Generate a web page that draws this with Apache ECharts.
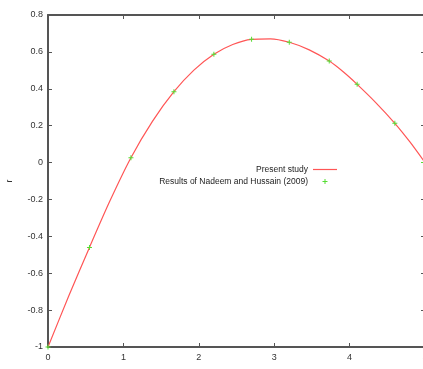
<!DOCTYPE html>
<html>
<head>
<meta charset="utf-8">
<script src="https://cdn.jsdelivr.net/npm/echarts@6/dist/echarts.min.js"></script>
<style>
html,body{margin:0;padding:0;background:#fff;}
#chart{width:423px;height:369px;}
</style>
</head>
<body>
<div id="chart"></div>
<script>
// Present study (curve)
var curveX = [0, 0.275, 0.55, 0.825, 1.1, 1.385, 1.67, 1.935, 2.2, 2.45, 2.7, 2.95, 3.2, 3.465, 3.73, 3.915, 4.1, 4.35, 4.6, 4.8, 5.0];
var curveR = [-1, -0.724, -0.46, -0.205, 0.026, 0.223, 0.384, 0.501, 0.587, 0.640, 0.668, 0.671, 0.652, 0.611, 0.55, 0.492, 0.424, 0.324, 0.213, 0.112, 0.0];
// Results of Nadeem and Hussain (2009)
var pointsX = [0, 0.55, 1.1, 1.67, 2.2, 2.7, 3.2, 3.73, 4.1, 4.6, 4.98];
var pointsR = [-1, -0.46, 0.026, 0.384, 0.587, 0.668, 0.652, 0.55, 0.424, 0.213, 0.0];
var xTicks = {min: 0, max: 5, interval: 1};
var yTicks = {min: -1, max: 0.8, interval: 0.2};
var seriesNames = ['Present study', 'Results of Nadeem and Hussain (2009)'];

function zip(a, b) { return a.map(function (v, i) { return [v, b[i]]; }); }

var plusPath = 'path://M2,0H3V2H5V3H3V5H2V3H0V2H2Z';
var legendLine = 'path://M0,0M24,7M0,2.9H24V4.1H0Z';
var legendPlus = 'path://M0,0M7,7M3,1H4V3H6V4H4V6H3V4H1V3H3Z';
function axisLine() { return {show: true, onZero: false, lineStyle: {color: '#555', width: 2}}; }
var tickStyle = {show: true, inside: true, length: 4, lineStyle: {color: '#555', width: 1}};
var labelStyle = {color: '#333', fontSize: 9, fontFamily: 'Liberation Sans, Arial, sans-serif'};

var chart = echarts.init(document.getElementById('chart'), null, {renderer: 'canvas'});
chart.setOption({
  animation: false,
  backgroundColor: '#fff',
  grid: {left: 48, right: -2, top: 15, bottom: 22, containLabel: false, outerBoundsMode: 'none'},
  legend: {
    orient: 'vertical',
    align: 'right',
    right: 81,
    top: 160,
    itemWidth: 24,
    itemHeight: 7,
    itemGap: 3,
    textStyle: {color: '#222', fontSize: 8.5, fontFamily: 'Liberation Sans, Arial, sans-serif'},
    data: [
      {name: seriesNames[0], icon: legendLine, itemStyle: {color: '#ff5555'}},
      {name: seriesNames[1], icon: legendPlus, itemStyle: {color: '#55dd33'}}
    ]
  },
  xAxis: [
    {type: 'value', position: 'bottom', min: xTicks.min, max: xTicks.max, interval: xTicks.interval,
     axisLine: axisLine(), axisTick: tickStyle, splitLine: {show: false},
     axisLabel: Object.assign({margin: 6}, labelStyle)},
    {type: 'value', position: 'top', min: xTicks.min, max: xTicks.max, interval: xTicks.interval,
     axisLine: axisLine(), axisTick: tickStyle, splitLine: {show: false}, axisLabel: {show: false}}
  ],
  yAxis: [
    {type: 'value', position: 'left', min: yTicks.min, max: yTicks.max, interval: yTicks.interval,
     name: 'r', nameLocation: 'middle', nameRotate: 90, nameGap: 34,
     nameTextStyle: {color: '#333', fontSize: 9, fontFamily: 'Liberation Sans, Arial, sans-serif'},
     axisLine: axisLine(), axisTick: tickStyle, splitLine: {show: false},
     axisLabel: Object.assign({margin: 5}, labelStyle)},
    {type: 'value', position: 'right', min: yTicks.min, max: yTicks.max, interval: yTicks.interval,
     axisLine: axisLine(), axisTick: tickStyle, splitLine: {show: false}, axisLabel: {show: false}}
  ],
  series: [
    {name: seriesNames[0], type: 'line', data: zip(curveX, curveR), smooth: 0.3,
     symbol: 'none', lineStyle: {color: '#ff5555', width: 1.2}, itemStyle: {color: '#ff5555'}, z: 2},
    {name: seriesNames[1], type: 'scatter', data: zip(pointsX, pointsR),
     symbol: plusPath, symbolSize: 5, symbolKeepAspect: true,
     itemStyle: {color: '#55dd33', opacity: 1}, z: 3}
  ]
});
</script>
</body>
</html>
